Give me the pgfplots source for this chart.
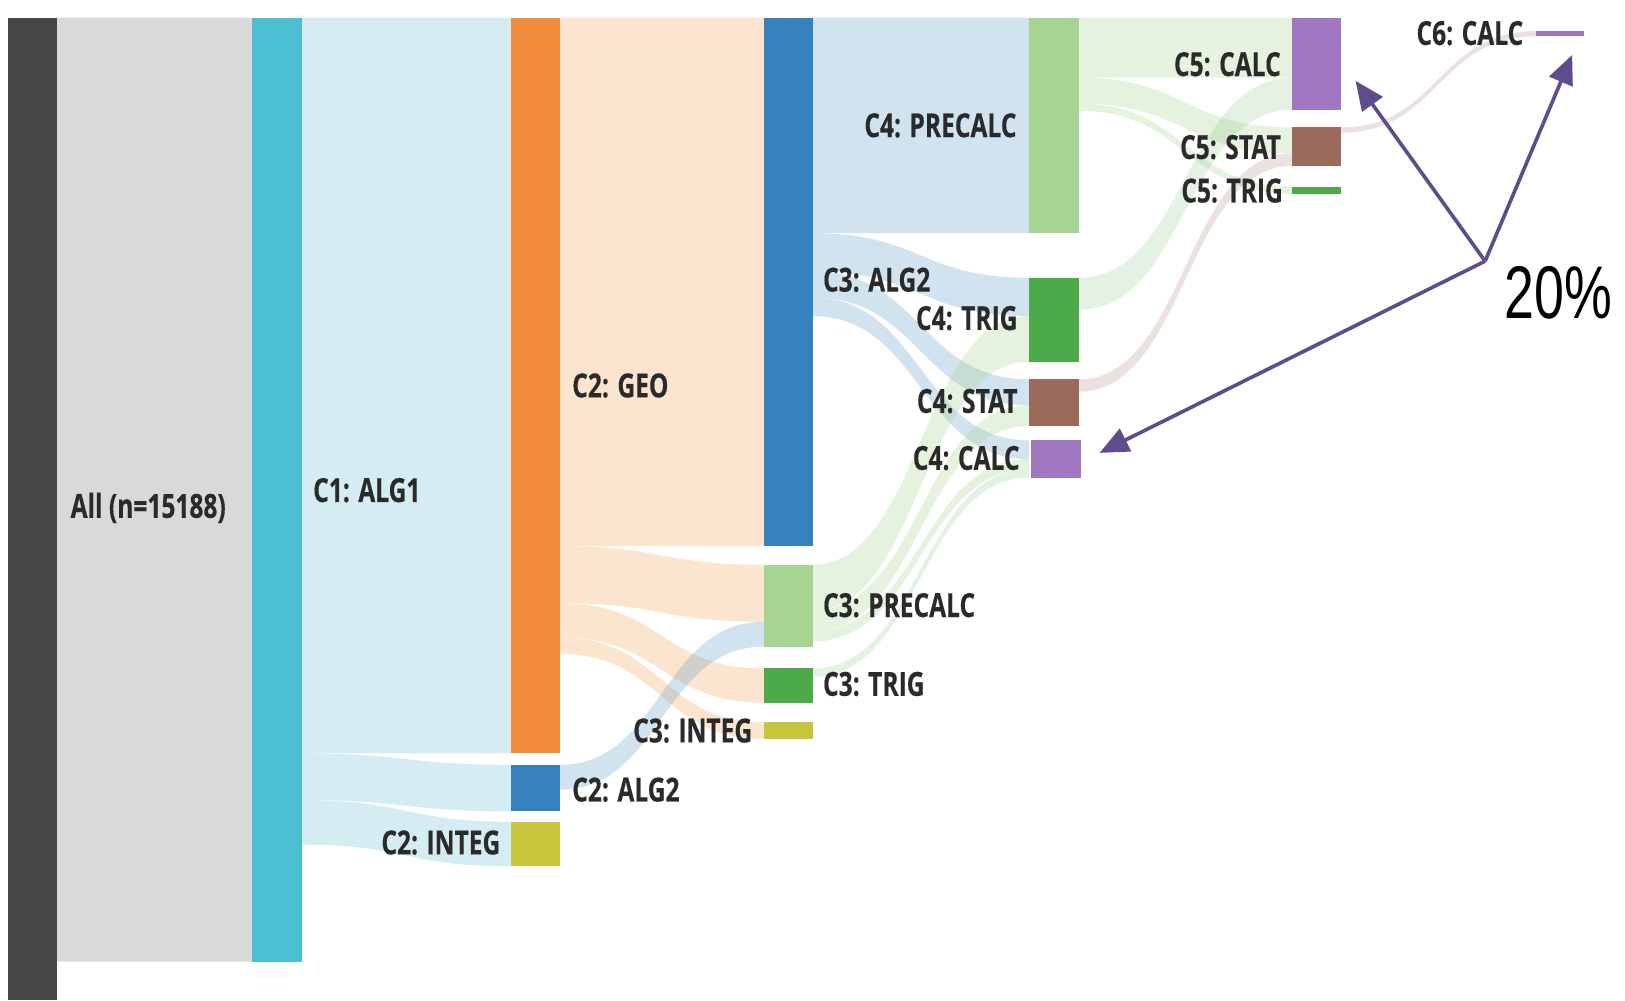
\documentclass[border=0pt]{standalone}
\usepackage{pgfplots}
\pgfplotsset{compat=1.18}
\usepackage{fontspec}
\usetikzlibrary{arrows.meta}
\newfontfamily\lab{Open Sans}[FakeStretch=0.74,FakeBold=0.3]
\newfontfamily\pct{Liberation Sans}[FakeStretch=0.72]
\definecolor{allc}{HTML}{474747}
\definecolor{flowgray}{HTML}{D9D9D9}
\definecolor{cyanc}{HTML}{4BBFD1}
\definecolor{flowcyan}{HTML}{D5ECF2}
\definecolor{orangec}{HTML}{F28A3B}
\definecolor{flowpeach}{HTML}{FCE5CF}
\definecolor{bluec}{HTML}{3481BE}
\definecolor{lgreenc}{HTML}{A6D593}
\definecolor{greenc}{HTML}{4CAA48}
\definecolor{brownc}{HTML}{9C6A5B}
\definecolor{purplec}{HTML}{9E77C0}
\definecolor{olivec}{HTML}{C6C53B}
\definecolor{arrowc}{HTML}{5E4C8C}
\definecolor{txtc}{HTML}{2A2A2A}
% node bar: x1 x2 top bottom colour
\newcommand{\nodebar}[5]{\addplot[fill=#5,draw=none] coordinates {(#1,#3) (#2,#3) (#2,#4) (#1,#4)} -- cycle;}
% flow: x1 x2 t1 b1 t2 b2 style
\newcommand{\flow}[7]{\fill[#7] (axis cs:#1,#3) .. controls (axis cs:{(#1+#2)/2},#3) and (axis cs:{(#1+#2)/2},#5) .. (axis cs:#2,#5) -- (axis cs:#2,#6) .. controls (axis cs:{(#1+#2)/2},#6) and (axis cs:{(#1+#2)/2},#4) .. (axis cs:#1,#4) -- cycle;}
\tikzset{lbl/.style={text=txtc,font=\lab\bfseries\fontsize{32}{32}\selectfont,inner sep=0pt}}
\begin{document}
\begin{tikzpicture}
\begin{axis}[width=1568pt,height=965pt,scale only axis,xmin=0,xmax=1568,ymin=0,ymax=965,y dir=reverse,hide axis,clip=false]
\addplot[fill=white,draw=none] coordinates {(0,0) (1568,0) (1568,965) (0,965)} -- cycle;
% flows
\flow{55}{243}{17}{928}{17}{928}{flowgray}
\flow{291}{493}{17}{727}{17}{727}{flowcyan}
\flow{291}{493}{727}{772}{738}{783}{flowcyan}
\flow{291}{493}{772}{815}{793}{836}{flowcyan}
\flow{540}{737}{17}{527}{17}{527}{flowpeach}
\flow{540}{737}{527}{582}{545}{600}{flowpeach}
\flow{540}{737}{582}{615}{645}{678}{flowpeach}
\flow{540}{737}{615}{631}{697}{713}{flowpeach}
\flow{540}{737}{738}{762}{600}{624}{bluec,opacity=0.22}
\flow{784}{993}{17}{225}{17}{225}{bluec,opacity=0.22}
\flow{784}{993}{225}{262}{268}{305}{bluec,opacity=0.22}
\flow{784}{993}{262}{287}{366}{391}{bluec,opacity=0.22}
\flow{784}{993}{287}{305}{425}{443}{bluec,opacity=0.22}
\flow{784}{993}{545}{589}{305}{349}{lgreenc,opacity=0.3}
\flow{784}{993}{589}{609}{391}{411}{lgreenc,opacity=0.3}
\flow{784}{993}{609}{619}{443}{453}{lgreenc,opacity=0.3}
\flow{784}{993}{645}{653}{453}{461}{greenc,opacity=0.15}
\flow{1041}{1247}{17}{75}{17}{75}{lgreenc,opacity=0.3}
\flow{1041}{1247}{75}{100}{123}{148}{lgreenc,opacity=0.3}
\flow{1041}{1247}{100}{107}{180}{187}{lgreenc,opacity=0.3}
\flow{1041}{1247}{268}{299}{75}{106}{greenc,opacity=0.15}
\flow{1041}{1247}{366}{378}{148}{160}{brownc,opacity=0.2}
\flow{1294}{1482}{123}{128}{30}{35}{brownc,opacity=0.2}
% bars
\nodebar{8}{55}{17}{965}{allc}
\nodebar{243}{291}{17}{928}{cyanc}
\nodebar{493}{540}{17}{727}{orangec}
\nodebar{493}{540}{738}{783}{bluec}
\nodebar{493}{540}{793}{836}{olivec}
\nodebar{737}{784}{17}{527}{bluec}
\nodebar{737}{784}{545}{624}{lgreenc}
\nodebar{737}{784}{645}{678}{greenc}
\nodebar{737}{784}{697}{713}{olivec}
\nodebar{993}{1041}{17}{225}{lgreenc}
\nodebar{993}{1041}{268}{349}{greenc}
\nodebar{993}{1041}{366}{411}{brownc}
\nodebar{995}{1043}{425}{461}{purplec}
\nodebar{1247}{1294}{17}{106}{purplec}
\nodebar{1247}{1294}{123}{160}{brownc}
\nodebar{1247}{1294}{180}{187}{greenc}
\nodebar{1482}{1528}{30}{35}{purplec}
% labels
\node[lbl,anchor=west] at (axis cs:68,490) {All (n=15188)};
\node[lbl,anchor=west] at (axis cs:302,473) {C1: ALG1};
\node[lbl,anchor=west] at (axis cs:552,372) {C2: GEO};
\node[lbl,anchor=west] at (axis cs:552,762) {C2: ALG2};
\node[lbl,anchor=east] at (axis cs:483,813) {C2: INTEG};
\node[lbl,anchor=west] at (axis cs:794,270) {C3: ALG2};
\node[lbl,anchor=west] at (axis cs:794,584) {C3: PRECALC};
\node[lbl,anchor=west] at (axis cs:794,660) {C3: TRIG};
\node[lbl,anchor=east] at (axis cs:726,705) {C3: INTEG};
\node[lbl,anchor=east] at (axis cs:981,121) {C4: PRECALC};
\node[lbl,anchor=east] at (axis cs:982,307) {C4: TRIG};
\node[lbl,anchor=east] at (axis cs:982,387) {C4: STAT};
\node[lbl,anchor=east] at (axis cs:984,442) {C4: CALC};
\node[lbl,anchor=east] at (axis cs:1236,62) {C5: CALC};
\node[lbl,anchor=east] at (axis cs:1236,142) {C5: STAT};
\node[lbl,anchor=east] at (axis cs:1238,184) {C5: TRIG};
\node[lbl,anchor=east] at (axis cs:1470,32) {C6: CALC};
% annotation arrows
\addplot[arrowc,line width=3.5pt,-{Triangle[length=28pt,width=24pt]}] coordinates {(1433,252) (1308,78)};
\addplot[arrowc,line width=3.5pt,-{Triangle[length=28pt,width=24pt]}] coordinates {(1433,252) (1517,53)};
\addplot[arrowc,line width=3.5pt,-{Triangle[length=28pt,width=24pt]}] coordinates {(1433,252) (1061,437)};
\node[text=black,font=\pct\fontsize{72}{72}\selectfont,inner sep=0pt,anchor=center] at (axis cs:1504,283) {20\%};
\end{axis}
\end{tikzpicture}
\end{document}
